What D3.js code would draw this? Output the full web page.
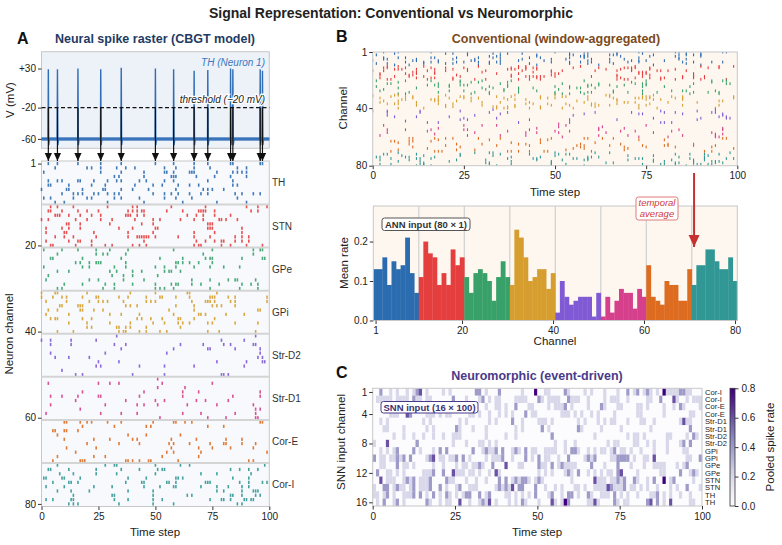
<!DOCTYPE html>
<html lang="en">
<head>
<meta charset="utf-8" />
<title>Signal Representation</title>
<script src="https://d3js.org/d3.v7.min.js"></script>
<style>
  body { margin: 0; background: #fff; }
  svg { font-family: "Liberation Sans", Arial, sans-serif; }
  .tick text { font-size: 10px; fill: #222; }
  .tick line { stroke: #333; }
  .domain { display: none; }
  .axlabel { font-size: 11.5px; fill: #222; }
</style>
</head>
<body>
<svg id="fig" width="782" height="545"></svg>
<script>
// ---- data ----
const groups = ["TH", "STN", "GPe", "GPi", "Str-D2", "Str-D1", "Cor-E", "Cor-I"];
const groupColors = ["#2b6cb0", "#e53e3e", "#38a169", "#d69e2e", "#805ad5", "#d53f8c", "#dd6b20", "#319795"];

// TH neuron 1 spikes (voltage trace) and their peak voltage
const thSpikeTimes = [3, 7, 16, 26, 35, 50, 58, 67, 73, 83, 84, 96, 97];
const thSpikePeaks = [29, 29, 30, 29, 31, 30, 29, 27, 28, 30, 29, 29, 27];

// spike times per channel (80 channels, 10 per group)
const spikeTimes = [
  [3,7,16,26,35,50,58,67,73,83,84,96,97],
  [6,20,22,26,33,37,41,54,59,67,74,86,90],
  [1,26,35,45,54,55,58,65,66,67,77,84,86,88,90],
  [32,34,45,57,58,59,68,76,83,90],
  [3,7,9,16,17,23,29,33,35,43,46,54,58,73,84],
  [3,4,12,22,28,41,49,53,60,65,69,84,86],
  [0,11,12,18,27,28,35,40,47,59,71,73,75,80],
  [9,14,16,18,23,25,29,32,34,49,54,57,60,65,70,73,85,88,93,96],
  [1,4,14,20,22,32,35,43,54,59,66,86],
  [6,10,29,45,62,77,90],
  [4,7,14,29,40,42,57,72,90,95,99],
  [3,4,9,16,20,25,38,40,42,44,45,55,62,69,70,71,72,76,92,95],
  [6,7,8,12,17,22,26,37,38,39,42,45,64,68,71,76,83],
  [0,3,15,20,26,31,41,49,52,61,67,71,78,79,81,86],
  [11,12,17,30,44,49,73,74,75],
  [2,9,12,17,34,40,50,51,73,74,75,88],
  [2,10,11,23,38,49,67,76,88],
  [6,10,14,24,38,42,43,44,45,46,47,50,60,67,74,85,88,91],
  [2,12,16,17,22,45,68,72,76,79,80,85,88,91],
  [4,5,15,22,28,31,40,43,46,67,69,70,79,83,90,97],
  [1,9,16,24,30,38,58,75,93,96,97],
  [7,24,27,29,37,71,93],
  [4,5,18,35,52,62,72,74,75,88,97,98],
  [15,17,21,24,25,26,37,59,60,62,65,69,75],
  [1,18,21,32,37,50,54,59,67,74,80,87],
  [7,12,30,33,40,44,54,56,57,61],
  [3,31,36,40,51],
  [2,21,25,36,45,66,74,82,85,86,94],
  [10,18,28,32,40,50,57,59,60,66,70,78,88,92,95],
  [7,9,27,32,50,52,54,58,74,87,95],
  [0,6,7,20,39,50,64,65,77],
  [0,5,9,11,18,24,25,34,38,46,52,53,59,65,74,75,76,82,85,99],
  [2,11,21,25,27,29,36,46,48,50,66,72,73,74,76,83,85,99],
  [8,9,16,17,18,37,39,42,59,67,75,77,79,85],
  [3,7,17,18,23,27,56,67,95,96],
  [2,12,30,35,43,58,69,70,72,81,89],
  [4,6,7,18,22,42,44,48,53,60,61,67,76],
  [12,20,30,39,49,54,60,62,65,73,75,85,95],
  [20,22,33,34,37,39,46,61],
  [7,14,34,36,37,43,46,52,55,73,78,94],
  [33,94],
  [0,4,13,24,79,89],
  [4,13,32,37,61,71,80,83,93,94],
  [35,58,73,74,85,96],
  [4,28,55,96],
  [6,12,21,95,97],
  [25,34,77,90,97,98],
  [24,26,43,54,67,89],
  [9],
  [15,18,40,54,79,80,82],
  [51],
  [3,25,30,34,53,75],
  [51,63],
  [18,45,62,69,96],
  [4,9,16,25,26,43,62,84,96],
  [15,37,50,54,68,72,82],
  [4,28,42,45,51,64,77,93],
  [17,94,96],
  [2,26,35,42,62,70,85,94],
  [52,73,81,94,95],
  [10,11,17,20,22,29,35,49,58,59,63,66,96,97],
  [18,32,46,48,73,80],
  [5,6,10,11,16],
  [7,38,46,61],
  [10,23,30,40,42,57,68,81,88],
  [20,34,43,56,58,65,74,80,81,88,94],
  [11,24,57,69,75,83,93],
  [15,55,58,70,99],
  [7,23,28,53,69],
  [5,17,18,19,37,38,40,43,47,48,60,91,93],
  [7,28,32,33,50,61,65,98],
  [3,4,12,24,35,43,51,53,54,83,87,91,95],
  [8,14,24,33,50,70,77,92],
  [1,2,9,10,17,38,46,59,60,62,84,91],
  [5,12,13,16,37,44,45,55,56,59,72,73,74,87,91,97,99],
  [2,10,23,31,45,52,58,59,70,77,82,88,91],
  [7,13,21,38,49,77,80,88,93,94,95],
  [14,31,32,49,64,66,83,84,88,94,96],
  [2,5,13,14,32,38,49,53,74,79,80,83,89,90,92,93],
  [12,14,16,34,49,58,86,88]
];

// mean rate per channel (ANN input)
const meanRate = [
  0.13,0.13,0.16,0.09,0.15,0.13,0.14,0.21,0.12,0.07,
  0.11,0.20,0.17,0.16,0.09,0.12,0.09,0.18,0.14,0.16,
  0.11,0.07,0.12,0.13,0.12,0.10,0.05,0.11,0.15,0.11,
  0.09,0.23,0.21,0.16,0.10,0.11,0.13,0.13,0.08,0.12,
  0.02,0.10,0.06,0.04,0.05,0.06,0.06,0.06,0.01,0.07,
  0.01,0.06,0.02,0.05,0.08,0.07,0.07,0.03,0.08,0.06,
  0.14,0.06,0.05,0.04,0.10,0.09,0.09,0.05,0.05,0.13,
  0.09,0.14,0.14,0.18,0.18,0.15,0.13,0.13,0.16,0.10
];

const snnLabels = ["Cor-I","Cor-I","Cor-E","Cor-E","Str-D1","Str-D1","Str-D2","Str-D2",
                   "GPi","GPi","GPe","GPe","STN","STN","TH","TH"];

const timeTicks = [0, 25, 50, 75, 100];
const voltTicks = [30, -20, -60];
const rasterTicks = [1, 20, 40, 60, 80];
const channelTicksB = [1, 40, 80];
const barTicks = [1, 20, 40, 60, 80];
const rateTicks = [0, 0.1, 0.2];
const snnTicks = [1, 4, 8, 12, 16];
const cbarTicks = [0, 0.2, 0.4, 0.6, 0.8];

// ---- figure ----
const svg = d3.select("#fig");
const gray = "#c8c8c8";

svg.append("text").attr("x", 391).attr("y", 18).attr("text-anchor", "middle")
  .style("font-size", "14px").style("font-weight", "bold").style("fill", "#222")
  .text("Signal Representation: Conventional vs Neuromorphic");

function panelLetter(x, y, s) {
  svg.append("text").attr("x", x).attr("y", y).style("font-size", "16px")
    .style("font-weight", "bold").style("fill", "#111").text(s);
}
function panelTitle(x, y, s, c) {
  svg.append("text").attr("x", x).attr("y", y).attr("text-anchor", "middle")
    .style("font-size", "12.5px").style("font-weight", "bold").style("fill", c).text(s);
}
function yLabel(x, y, s) {
  svg.append("text").attr("class", "axlabel").attr("text-anchor", "middle")
    .attr("transform", "translate(" + x + "," + y + ") rotate(-90)").text(s);
}
function xLabel(x, y, s) {
  svg.append("text").attr("class", "axlabel").attr("text-anchor", "middle")
    .attr("x", x).attr("y", y).text(s);
}

let defs = svg.append("defs");
defs.append("marker").attr("id", "blackHead").attr("markerUnits", "userSpaceOnUse")
  .attr("viewBox", "0 -4 8 8").attr("refX", 8).attr("refY", 0)
  .attr("markerWidth", 8).attr("markerHeight", 8).attr("orient", "auto")
  .append("path").attr("d", "M0,-3.6L8,0L0,3.6Z").attr("fill", "#111");
defs.append("marker").attr("id", "redHead").attr("markerUnits", "userSpaceOnUse")
  .attr("viewBox", "0 -6 12 12").attr("refX", 12).attr("refY", 0)
  .attr("markerWidth", 12).attr("markerHeight", 12).attr("orient", "auto")
  .append("path").attr("d", "M0,-5.5L12,0L0,5.5Z").attr("fill", "#c53030");

// ================= Panel A =================
panelLetter(17, 44, "A");
panelTitle(155, 43, "Neural spike raster (CBGT model)", "#1f3b63");

const tA = d3.scaleLinear().domain([0, 100]).range([41.5, 269.3]);
const vY = d3.scaleLinear().domain([-72, 51.5]).range([148.3, 51.7]);

let voltArea = svg.append("g").attr("id", "volt");
voltArea.append("rect").attr("x", tA(0)).attr("y", vY(51.5))
  .attr("width", tA(100) - tA(0)).attr("height", vY(-72) - vY(51.5))
  .attr("fill", "#edf1f8").attr("stroke", gray);

// noisy resting band and spike trace
let band = d3.area().x(d => tA(d)).y0(vY(-62.4)).y1(vY(-57.9));
voltArea.append("path").datum([0, 100]).attr("d", band).attr("fill", "#3a74bb").attr("opacity", 0.9);
let trace = [[0, -60]];
thSpikeTimes.forEach((t, i) => {
  trace.push([t - 0.12, -60], [t, thSpikePeaks[i]], [t + 0.18, -68], [t + 0.5, -60]);
});
trace.push([100, -60]);
let line = d3.line().x(d => tA(d[0])).y(d => vY(d[1]));
voltArea.append("path").datum(trace).attr("d", line)
  .attr("fill", "none").attr("stroke", "#2f6db5").attr("stroke-width", 1.4);

voltArea.append("line").attr("x1", tA(0)).attr("x2", tA(100))
  .attr("y1", vY(-20)).attr("y2", vY(-20))
  .attr("stroke", "#111").attr("stroke-width", 1.2).attr("stroke-dasharray", "4,2.5");

voltArea.append("text").attr("x", 265).attr("y", 66).attr("text-anchor", "end")
  .style("font-size", "10px").style("font-style", "italic").style("fill", "#3a78c0")
  .text("TH (Neuron 1)");
voltArea.append("text").attr("x", 265).attr("y", 103).attr("text-anchor", "end")
  .style("font-size", "10px").style("font-style", "italic").style("fill", "#222")
  .attr("stroke", "#fff").attr("stroke-width", 2.5).attr("paint-order", "stroke")
  .text("threshold (\u221220 mV)");

svg.append("g").attr("transform", "translate(" + tA(0) + ",0)")
  .call(d3.axisLeft(vY).tickValues(voltTicks).tickSize(3.5).tickPadding(2)
    .tickFormat(d => d > 0 ? "+" + d : String(d)));
yLabel(14, 100, "V (mV)");

// raster
const rowA = d3.scaleLinear().domain([0.4, 80.6]).range([161, 506.5]);
let rasterA = svg.append("g").attr("id", "rasterA");
rasterA.append("rect").attr("x", tA(0)).attr("y", rowA(0.4))
  .attr("width", tA(100) - tA(0)).attr("height", rowA(80.6) - rowA(0.4))
  .attr("fill", "#f7f9fc").attr("stroke", gray);

let spikes = [];
spikeTimes.forEach((row, i) => row.forEach(t => spikes.push({ch: i + 1, t: t, g: Math.floor(i / 10)})));

rasterA.selectAll("rect.spk").data(spikes).join("rect").attr("class", "spk")
  .attr("x", d => tA(d.t) - 0.8).attr("y", d => rowA(d.ch) - 1.6)
  .attr("width", 1.6).attr("height", 3.2)
  .attr("fill", d => groupColors[d.g]).attr("opacity", 0.9);

rasterA.selectAll("line.sep").data(d3.range(1, 8)).join("line").attr("class", "sep")
  .attr("x1", tA(0)).attr("x2", tA(100))
  .attr("y1", d => rowA(d * 10 + 0.5)).attr("y2", d => rowA(d * 10 + 0.5))
  .attr("stroke", "#d4d4d4").attr("stroke-width", 2);

rasterA.selectAll("text.grp").data(groups).join("text").attr("class", "grp")
  .attr("x", 272).attr("y", (d, i) => rowA(i * 10 + 5.5) + 3.5)
  .style("font-size", "10px").style("fill", "#333").text(d => d);

svg.append("g").attr("transform", "translate(" + tA(0) + ",0)")
  .call(d3.axisLeft(rowA).tickValues(rasterTicks).tickSize(3.5).tickPadding(2));
svg.append("g").attr("transform", "translate(0," + rowA(80.6) + ")")
  .call(d3.axisBottom(tA).tickValues(timeTicks).tickSize(3.5).tickPadding(3));
xLabel(155, 536, "Time step");
yLabel(13, 334, "Neuron channel");

// arrows from threshold crossings to raster
svg.selectAll("line.arrow").data(thSpikeTimes).join("line").attr("class", "arrow")
  .attr("x1", d => tA(d)).attr("x2", d => tA(d))
  .attr("y1", vY(-20)).attr("y2", 161)
  .attr("stroke", "#111").attr("stroke-width", 1.2)
  .attr("marker-end", "url(#blackHead)");

// ================= Panel B =================
panelLetter(336, 42, "B");
panelTitle(556, 43, "Conventional (window-aggregated)", "#7b4a1c");

const tB = d3.scaleLinear().domain([0, 100]).range([372.7, 737.3]);
const chB = d3.scaleLinear().domain([1, 80]).range([52, 165.7]);
defs.append("clipPath").attr("id", "clipB").append("rect")
  .attr("x", tB(0)).attr("y", chB(1)).attr("width", tB(100) - tB(0)).attr("height", chB(80) - chB(1));

let rasterB = svg.append("g").attr("id", "rasterB");
rasterB.append("rect").attr("x", tB(0)).attr("y", chB(1))
  .attr("width", tB(100) - tB(0)).attr("height", chB(80) - chB(1))
  .attr("fill", "#fdf7f0");
rasterB.append("g").attr("clip-path", "url(#clipB)")
  .selectAll("rect").data(spikes).join("rect")
  .attr("x", d => tB(d.t) - 0.55).attr("y", d => chB(d.ch) - 1.4)
  .attr("width", 1.1).attr("height", 2.8)
  .attr("fill", d => groupColors[d.g]);
rasterB.append("rect").attr("x", tB(0)).attr("y", chB(1))
  .attr("width", tB(100) - tB(0)).attr("height", chB(80) - chB(1))
  .attr("fill", "none").attr("stroke", gray);

svg.append("g").attr("transform", "translate(" + tB(0) + ",0)")
  .call(d3.axisLeft(chB).tickValues(channelTicksB).tickSize(3.5).tickPadding(2));
svg.append("g").attr("transform", "translate(0," + chB(80) + ")")
  .call(d3.axisBottom(tB).tickValues(timeTicks).tickSize(3.5).tickPadding(3));
xLabel(555, 196, "Time step");
yLabel(347, 108, "Channel");

// bar chart
const xBar = d3.scaleLinear().domain([0.5, 80.5]).range([373.3, 737.3]);
const yBar = d3.scaleLinear().domain([0, 0.29]).range([320.5, 206]);
let bars = svg.append("g").attr("id", "bars");
bars.append("rect").attr("x", xBar(0.5)).attr("y", yBar(0.29))
  .attr("width", xBar(80.5) - xBar(0.5)).attr("height", yBar(0) - yBar(0.29))
  .attr("fill", "#fdf7f0");
bars.selectAll("line.vg").data(d3.range(1, 8)).join("line").attr("class", "vg")
  .attr("x1", d => xBar(d * 10 + 0.5)).attr("x2", d => xBar(d * 10 + 0.5))
  .attr("y1", yBar(0.29)).attr("y2", yBar(0))
  .attr("stroke", "#d0d0d0").attr("stroke-width", 1.2);
bars.selectAll("rect.bar").data(meanRate).join("rect").attr("class", "bar")
  .attr("x", (d, i) => xBar(i + 0.5)).attr("width", (d, i) => xBar(i + 1.5) - xBar(i + 0.5) + 0.3)
  .attr("y", d => yBar(d)).attr("height", d => yBar(0) - yBar(d))
  .attr("fill", (d, i) => groupColors[Math.floor(i / 10)]);
bars.append("rect").attr("x", xBar(0.5)).attr("y", yBar(0.29))
  .attr("width", xBar(80.5) - xBar(0.5)).attr("height", yBar(0) - yBar(0.29))
  .attr("fill", "none").attr("stroke", gray);

svg.append("g").attr("transform", "translate(" + xBar(0.5) + ",0)")
  .call(d3.axisLeft(yBar).tickValues(rateTicks).tickSize(3.5).tickPadding(2).tickFormat(d3.format(".1f")));
svg.append("g").attr("transform", "translate(0," + yBar(0) + ")")
  .call(d3.axisBottom(xBar).tickValues(barTicks).tickSize(3.5).tickPadding(3));
xLabel(555, 345, "Channel");
yLabel(348, 263, "Mean rate");

// ANN label box
let ann = svg.append("g");
ann.append("rect").attr("x", 382).attr("y", 218).attr("width", 88).attr("height", 12.5).attr("rx", 2.5)
  .attr("fill", "#fff").attr("stroke", "#555").attr("stroke-width", 1);
ann.append("text").attr("x", 426).attr("y", 227.8).attr("text-anchor", "middle")
  .style("font-size", "9.5px").style("font-weight", "bold").style("fill", "#333")
  .text("ANN input (80 \u00d7 1)");

// temporal average arrow
svg.append("line").attr("x1", xBar(71)).attr("x2", xBar(71)).attr("y1", 173).attr("y2", 247)
  .attr("stroke", "#c53030").attr("stroke-width", 2).attr("marker-end", "url(#redHead)");
let ta = svg.append("g");
ta.append("rect").attr("x", 636).attr("y", 197).attr("width", 42).attr("height", 23).attr("rx", 2.5)
  .attr("fill", "#fff").attr("stroke", "#e07a7a").attr("stroke-width", 1);
ta.append("text").attr("x", 657).attr("y", 206.3).attr("text-anchor", "middle")
  .style("font-size", "9.5px").style("font-style", "italic").style("fill", "#d03a3a").text("temporal");
ta.append("text").attr("x", 657).attr("y", 216.6).attr("text-anchor", "middle")
  .style("font-size", "9.5px").style("font-style", "italic").style("fill", "#d03a3a").text("average");

// ================= Panel C =================
panelLetter(336, 378, "C");
panelTitle(537, 380, "Neuromorphic (event-driven)", "#4a3a8a");

// pool 5 channels per SNN input row (row 1 = last channels, row 16 = TH)
const pooled = d3.range(16).map(k => {
  const base = (15 - k) * 5;
  return d3.range(100).map(t => {
    let c = 0;
    for (let i = 0; i < 5; i++) if (spikeTimes[base + i].includes(t)) c++;
    return c / 5;
  });
});

const tC = d3.scaleLinear().domain([0, 100]).range([372.7, 702]);
const rowC = d3.scaleLinear().domain([0.5, 16.5]).range([388.3, 506]);
const colour = v => d3.interpolatePurples(Math.min(v, 0.8) / 0.8);

let cells = [];
pooled.forEach((row, k) => row.forEach((v, t) => cells.push({r: k + 1, t: t, v: v})));
let heat = svg.append("g").attr("id", "heat");
heat.selectAll("rect.cell").data(cells).join("rect").attr("class", "cell")
  .attr("x", d => tC(d.t)).attr("width", tC(1) - tC(0) + 0.2)
  .attr("y", d => rowC(d.r - 0.5)).attr("height", rowC(1.5) - rowC(0.5) + 0.2)
  .attr("fill", d => colour(d.v));
heat.append("rect").attr("x", tC(0)).attr("y", rowC(0.5))
  .attr("width", tC(100) - tC(0)).attr("height", rowC(16.5) - rowC(0.5))
  .attr("fill", "none").attr("stroke", gray);

heat.selectAll("text.snn").data(snnLabels).join("text").attr("class", "snn")
  .attr("x", 705).attr("y", (d, i) => rowC(i + 1) + 2.8)
  .style("font-size", "7.6px").style("fill", "#222").text(d => d);

svg.append("g").attr("transform", "translate(" + tC(0) + ",0)")
  .call(d3.axisLeft(rowC).tickValues(snnTicks).tickSize(3.5).tickPadding(2));
svg.append("g").attr("transform", "translate(0," + rowC(16.5) + ")")
  .call(d3.axisBottom(tC).tickValues(timeTicks).tickSize(3.5).tickPadding(3));
xLabel(537, 536, "Time step");
yLabel(345, 442, "SNN input channel");

let snn = svg.append("g");
snn.append("rect").attr("x", 381).attr("y", 401.5).attr("width", 97).attr("height", 11.5).attr("rx", 2.5)
  .attr("fill", "#fff").attr("stroke", "#4a3a8a").attr("stroke-width", 1);
snn.append("text").attr("x", 429.5).attr("y", 410.5).attr("text-anchor", "middle")
  .style("font-size", "9.5px").style("font-weight", "bold").style("fill", "#3c3270")
  .text("SNN input (16 \u00d7 100)");

// colorbar
const cbY = d3.scaleLinear().domain([0, 0.8]).range([506, 388.3]);
let grad = defs.append("linearGradient").attr("id", "cbGrad")
  .attr("x1", 0).attr("y1", 1).attr("x2", 0).attr("y2", 0);
d3.range(0, 1.01, 0.1).forEach(s => grad.append("stop").attr("offset", s).attr("stop-color", d3.interpolatePurples(s)));
svg.append("rect").attr("x", 730).attr("y", cbY(0.8)).attr("width", 5).attr("height", cbY(0) - cbY(0.8))
  .attr("fill", "url(#cbGrad)").attr("stroke", "#333").attr("stroke-width", 0.8);
svg.append("g").attr("transform", "translate(735,0)")
  .call(d3.axisRight(cbY).tickValues(cbarTicks).tickSize(3.5).tickPadding(3).tickFormat(d3.format(".1f")));
svg.append("text").attr("class", "axlabel").attr("text-anchor", "middle")
  .attr("transform", "translate(774,447) rotate(-90)").text("Pooled spike rate");
</script>
</body>
</html>
